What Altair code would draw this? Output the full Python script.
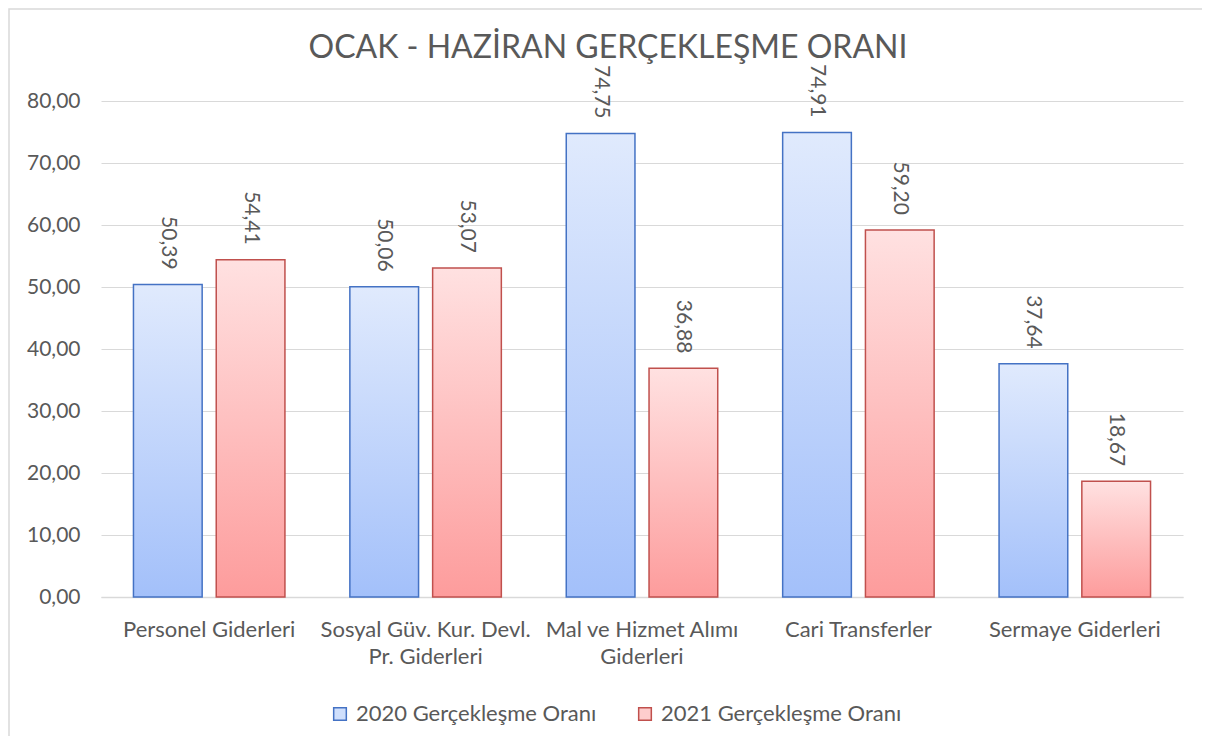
import altair as alt
import pandas as pd

categories = [
    "Personel Giderleri",
    "Sosyal Güv. Kur. Devl.|Pr. Giderleri",
    "Mal ve Hizmet Alımı|Giderleri",
    "Cari Transferler",
    "Sermaye Giderleri",
]
series_names = ["2020 Gerçekleşme Oranı", "2021 Gerçekleşme Oranı"]
values_2020 = [50.39, 50.06, 74.75, 74.91, 37.64]
values_2021 = [54.41, 53.07, 36.88, 59.20, 18.67]
y_ticks = [0, 10, 20, 30, 40, 50, 60, 70, 80]

rows = []
for c, v in zip(categories, values_2020):
    rows.append({"category": c, "series": series_names[0], "value": v})
for c, v in zip(categories, values_2021):
    rows.append({"category": c, "series": series_names[1], "value": v})
df = pd.DataFrame(rows)

TEXT = "#595959"
GRID = "#d9d9d9"
FONT = "Lato"
FS_NUM = 21
FS_TXT = 22

grad_blue = {
    "gradient": "linear", "x1": 0, "y1": 0, "x2": 0, "y2": 1,
    "stops": [{"offset": 0, "color": "#e0eafd"}, {"offset": 1, "color": "#a3c0fa"}],
}
grad_red = {
    "gradient": "linear", "x1": 0, "y1": 0, "x2": 0, "y2": 1,
    "stops": [{"offset": 0, "color": "#ffe1e1"}, {"offset": 1, "color": "#fd9c9c"}],
}

legend = alt.Legend(
    title=None, orient="none", legendX=228, legendY=602, direction="horizontal",
    symbolType="square", symbolSize=160, symbolStrokeWidth=1.5,
    labelFont=FONT, labelFontSize=FS_TXT, labelColor=TEXT, labelOffset=5,
    labelLimit=400, columnPadding=37, padding=0,
)
stroke_scale = alt.Scale(domain=series_names, range=["#4472C4", "#C0504D"])

base = alt.Chart(df).transform_calculate(
    label="replace(format(datum.value, '.2f'), '.', ',')"
).encode(
    x=alt.X(
        "category:N", sort=categories,
        scale=alt.Scale(paddingInner=0.3, paddingOuter=0.15),
        axis=alt.Axis(
            title=None, labelAngle=0, labelExpr="split(datum.label, '|')",
            labelFont=FONT, labelFontSize=FS_TXT, labelColor=TEXT, labelPadding=22,
            labelLineHeight=27, ticks=False, domainColor=GRID, domainWidth=1.5,
            grid=False, labelLimit=400,
        ),
    ),
    xOffset=alt.XOffset(
        "series:N", sort=series_names,
        scale=alt.Scale(domain=series_names, paddingInner=0.17, paddingOuter=0),
    ),
    y=alt.Y(
        "value:Q", scale=alt.Scale(domain=[0, 80]),
        axis=alt.Axis(
            title=None, values=y_ticks,
            labelExpr="replace(format(datum.value, '.2f'), '.', ',')",
            labelFont=FONT, labelFontSize=FS_NUM, labelColor=TEXT, labelPadding=21,
            ticks=False, domain=False, gridColor=GRID, gridWidth=1.2,
        ),
    ),
)

bars = base.mark_bar(strokeWidth=1.5).encode(
    fill=alt.condition(
        f"datum.series == '{series_names[0]}'", alt.value(grad_blue), alt.value(grad_red)
    ),
    stroke=alt.Stroke("series:N", scale=stroke_scale, legend=legend),
)

labels = base.mark_text(
    angle=90, align="right", baseline="middle", dx=-15,
    font=FONT, fontSize=FS_NUM, color=TEXT,
).encode(text="label:N")

legend_layer = alt.Chart(df).transform_filter("false").mark_point(
    shape="square", filled=True
).encode(
    fill=alt.Fill(
        "series:N",
        scale=alt.Scale(domain=series_names, range=["#cfdffc", "#fecdcd"]),
        legend=legend,
    ),
    stroke=alt.Stroke("series:N", scale=stroke_scale, legend=legend),
)

frame = alt.Chart(alt.Data(values=[{}])).mark_rect(
    fill="white", fillOpacity=0, stroke=GRID, strokeWidth=1.5
).encode(
    x=alt.value(-92), x2=alt.value(1300), y=alt.value(-92), y2=alt.value(800)
)

chart = alt.layer(frame, bars, labels, legend_layer).properties(
    width=1082, height=496,
    autosize=alt.AutoSizeParams(type="none"),
    padding={"left": 93, "top": 93, "right": 19, "bottom": 139},
    title=alt.TitleParams(
        "OCAK - HAZİRAN GERÇEKLEŞME ORANI", font=FONT, fontSize=32,
        fontWeight="normal", color=TEXT, anchor="middle", frame="group",
        dx=-34, offset=0, dy=57,
    ),
).configure_view(stroke=None)

chart.save("out.html", embed_options={"renderer": "svg", "actions": False})
